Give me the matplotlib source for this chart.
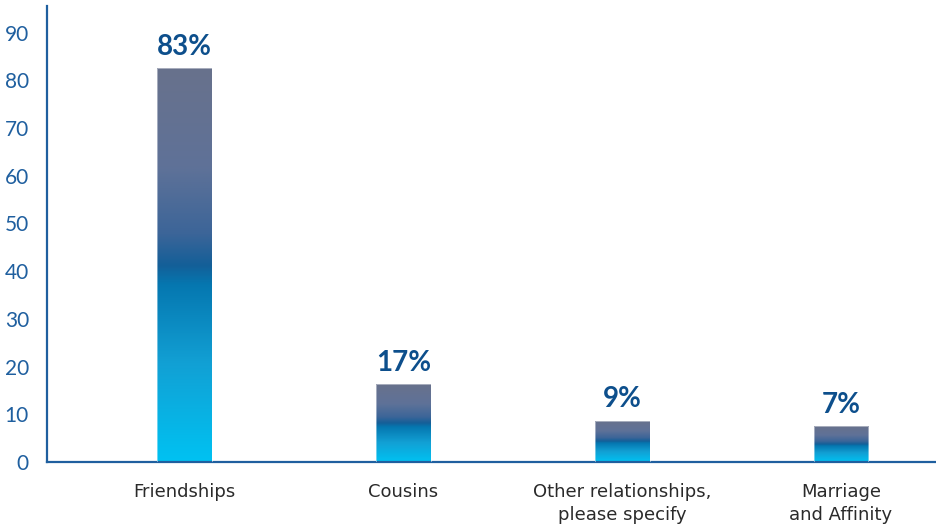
import numpy as np
import matplotlib
matplotlib.use("Agg")
import matplotlib.pyplot as plt
from matplotlib.colors import LinearSegmentedColormap
from matplotlib.patches import Rectangle

# data
categories = ["Friendships", "Cousins", "Other relationships,\nplease specify", "Marriage\nand Affinity"]
values = [82.5, 16.3, 8.7, 7.5]
value_labels = ["83%", "17%", "9%", "7%"]
yticks = [0, 10, 20, 30, 40, 50, 60, 70, 80, 90]

axis_blue = "#1f5f9f"
label_blue = "#0d4f8c"

# bottom -> top gradient of each bar
grad = LinearSegmentedColormap.from_list("bar_grad", [
    (0.00, "#00c2f2"),
    (0.25, "#12a0d4"),
    (0.45, "#0577b0"),
    (0.50, "#145f98"),
    (0.58, "#3c6598"),
    (0.75, "#5f7298"),
    (1.00, "#68718c"),
])

plt.rcParams['font.family'] = ['Lato', 'DejaVu Sans']

fig = plt.figure(figsize=(9.36, 5.25), dpi=100)
ax = fig.add_axes([0.0502, 0.12, 0.9498, 0.8686])

x = np.arange(len(categories))
width = 0.251
bars = ax.bar(x, values, width=width, color="none", edgecolor="none")

# fill each bar with its own vertical gradient
g = np.linspace(0, 1, 256).reshape(-1, 1)
for b in bars:
    x0, y0 = b.get_x(), b.get_y()
    w, h = b.get_width(), b.get_height()
    im = ax.imshow(g, cmap=grad, origin="lower", aspect="auto",
                   extent=[x0, x0 + w, y0, y0 + h], zorder=2)
    clip = Rectangle((x0, y0), w, h, transform=ax.transData)
    im.set_clip_path(clip)
    ax.add_patch(Rectangle((x0, y0), w, h, fill=False, edgecolor="#ffffff",
                           linewidth=0.6, alpha=0.5, zorder=3))

for xi, v, lab in zip(x, values, value_labels):
    ax.annotate(lab, (xi, v), xytext=(0, 6), textcoords="offset points",
                ha="center", va="bottom", fontsize=20, fontweight="bold",
                color=label_blue)

ax.set_xlim(-0.628, 3.434)
ax.set_ylim(0, 95.6)
ax.set_yticks(yticks)
ax.set_xticks(x)
ax.set_xticklabels(categories, fontsize=13, color="#2a2a2a", linespacing=1.35,
                   family="DejaVu Sans")
ax.tick_params(axis="y", length=0, pad=13, labelsize=15, labelcolor=axis_blue)
ax.tick_params(axis="x", length=0, pad=15)

for side in ["top", "right"]:
    ax.spines[side].set_visible(False)
for side in ["left", "bottom"]:
    ax.spines[side].set_color(axis_blue)
    ax.spines[side].set_linewidth(1.6)

fig.savefig("out.png", dpi=100)
